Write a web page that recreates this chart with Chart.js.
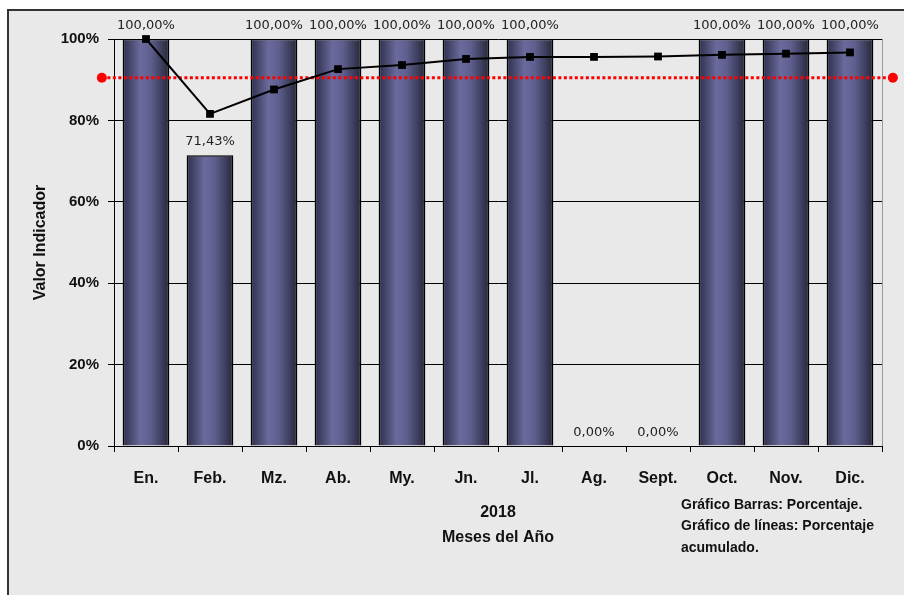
<!DOCTYPE html>
<html>
<head>
<meta charset="utf-8">
<script src="https://cdn.jsdelivr.net/npm/chart.js@4.4.1/dist/chart.umd.min.js"></script>
<style>
  html, body { margin: 0; padding: 0; background: #fff; }
  #wrap { width: 904px; height: 595px; }
</style>
</head>
<body>
<div id="wrap"><canvas id="grafico" width="904" height="595"></canvas></div>
<script>
// datos
var meses = ['En.', 'Feb.', 'Mz.', 'Ab.', 'My.', 'Jn.', 'Jl.', 'Ag.', 'Sept.', 'Oct.', 'Nov.', 'Dic.'];
var porcentaje = [100, 71.43, 100, 100, 100, 100, 100, 0, 0, 100, 100, 100];
var acumulado = [100, 81.6, 87.6, 92.6, 93.6, 95.1, 95.6, 95.6, 95.7, 96.1, 96.4, 96.7];
var meta = 90.5;
var metaX = [-0.19, 12.17];
var yTicks = [0, 20, 40, 60, 80, 100];
var notas = ['Gráfico Barras: Porcentaje.', 'Gráfico de líneas: Porcentaje', 'acumulado.'];

var BAR_PCT = 0.73;

function barFill(c) {
    var chart = c.chart;
    var xs = chart.scales.x;
    if (!xs || !chart.chartArea) return '#5f5f8f';
    var cx = xs.getPixelForValue(c.dataIndex);
    var half = (xs.width / meses.length) * BAR_PCT / 2;
    var g = chart.ctx.createLinearGradient(cx - half, 0, cx + half, 0);
    g.addColorStop(0, '#2e2e4a');
    g.addColorStop(0.38, '#6a6a9c');
    g.addColorStop(0.6, '#5f5f8f');
    g.addColorStop(1, '#262638');
    return g;
}

const fondo = {
    id: 'fondo',
    beforeDraw(chart) {
        const ctx = chart.ctx;
        ctx.save();
        ctx.fillStyle = '#ffffff';
        ctx.fillRect(0, 0, chart.width, chart.height);
        ctx.fillStyle = '#e9e9e9';
        ctx.fillRect(8, 10, chart.width, chart.height);
        ctx.strokeStyle = '#333333';
        ctx.lineWidth = 2;
        ctx.strokeRect(8, 10, chart.width + 10, chart.height + 10);
        ctx.restore();
    },
    beforeDatasetsDraw(chart) {
        const a = chart.chartArea;
        const ctx = chart.ctx;
        ctx.save();
        ctx.strokeStyle = '#9a9a9a';
        ctx.lineWidth = 1;
        ctx.beginPath();
        ctx.moveTo(a.right + 0.5, a.top);
        ctx.lineTo(a.right + 0.5, a.bottom);
        ctx.stroke();
        ctx.restore();
    },
    afterDraw(chart) {
        const ctx = chart.ctx;
        ctx.save();
        ctx.fillStyle = '#111';
        ctx.font = 'bold 14px "Liberation Sans"';
        ctx.textAlign = 'left';
        ctx.textBaseline = 'middle';
        notas.forEach(function (t, i) {
            ctx.fillText(t, 681, 505 + i * 21.5);
        });
        ctx.restore();
    }
};

const etiquetas = {
    id: 'etiquetas',
    afterDatasetsDraw(chart) {
        const ctx = chart.ctx;
        ctx.save();
        // puntos extremos de la linea meta (fuera del area, Chart.js no los pinta)
        const mm = chart.getDatasetMeta(1);
        ctx.fillStyle = '#ff0000';
        mm.data.forEach(function (p) {
            ctx.beginPath();
            ctx.arc(p.x, p.y, 5, 0, Math.PI * 2);
            ctx.fill();
        });
        const m = chart.getDatasetMeta(0);
        ctx.fillStyle = '#222';
        ctx.font = '13px "DejaVu Sans"';
        ctx.textAlign = 'center';
        ctx.textBaseline = 'bottom';
        m.data.forEach(function (bar, i) {
            const txt = porcentaje[i].toFixed(2).replace('.', ',') + '%';
            ctx.fillText(txt, bar.x, bar.y - 7);
        });
        ctx.restore();
    }
};

new Chart(document.getElementById('grafico'), {
    data: {
        labels: meses,
        datasets: [
            {
                type: 'bar',
                label: 'Porcentaje',
                data: porcentaje,
                backgroundColor: barFill,
                borderColor: '#000',
                borderWidth: function (c) { return porcentaje[c.dataIndex] > 0 ? 1.5 : 0; },
                barPercentage: BAR_PCT,
                categoryPercentage: 1,
                grouped: false,
                order: 3
            },
            {
                type: 'line',
                label: 'Meta',
                data: metaX.map(function (x) { return { x: x, y: meta }; }),
                xAxisID: 'x2',
                borderColor: '#ff0000',
                borderWidth: 3,
                borderDash: [3, 2.5],
                pointRadius: 0,
                clip: false,
                order: 2
            },
            {
                type: 'line',
                label: 'Acumulado',
                data: acumulado,
                borderColor: '#000',
                borderWidth: 2,
                pointStyle: 'rect',
                pointRadius: 5.5,
                pointBackgroundColor: '#000',
                pointBorderWidth: 0,
                clip: false,
                order: 1
            }
        ]
    },
    options: {
        responsive: false,
        animation: false,
        events: [],
        layout: { padding: { left: 0, top: 39, right: 22, bottom: 0 } },
        plugins: { legend: { display: false }, tooltip: { enabled: false } },
        scales: {
            x: {
                type: 'category',
                offset: true,
                afterFit: function (s) { s.height = 149; },
                grid: { display: true, drawOnChartArea: false, drawTicks: true, tickLength: 6, color: '#000', offset: true },
                border: { display: true, color: '#000', width: 1 },
                ticks: { color: '#111', padding: 17, font: { family: 'Liberation Sans', weight: 'bold', size: 16 } },
                title: {
                    display: true,
                    text: ['2018', 'Meses del Año'],
                    color: '#111',
                    font: { family: 'Liberation Sans', weight: 'bold', size: 16, lineHeight: 1.5625 },
                    padding: { top: 0, bottom: 45 }
                }
            },
            x2: {
                type: 'linear',
                display: false,
                min: 0,
                max: 12
            },
            y: {
                min: 0,
                max: 100,
                afterFit: function (s) { s.width = 114; },
                afterBuildTicks: function (s) { s.ticks = yTicks.map(function (v) { return { value: v }; }); },
                grid: { color: '#000', lineWidth: 1, drawTicks: true, tickLength: 6 },
                border: { display: true, color: '#000', width: 1 },
                ticks: {
                    color: '#111',
                    padding: 9,
                    font: { family: 'Liberation Sans', weight: 'bold', size: 15 },
                    callback: function (v) { return v + '%'; }
                },
                title: {
                    display: true,
                    text: 'Valor Indicador',
                    color: '#111',
                    font: { family: 'Liberation Sans', weight: 'bold', size: 16 },
                    padding: { top: 31, bottom: 0 }
                }
            }
        }
    },
    plugins: [fondo, etiquetas]
});
</script>
</body>
</html>
